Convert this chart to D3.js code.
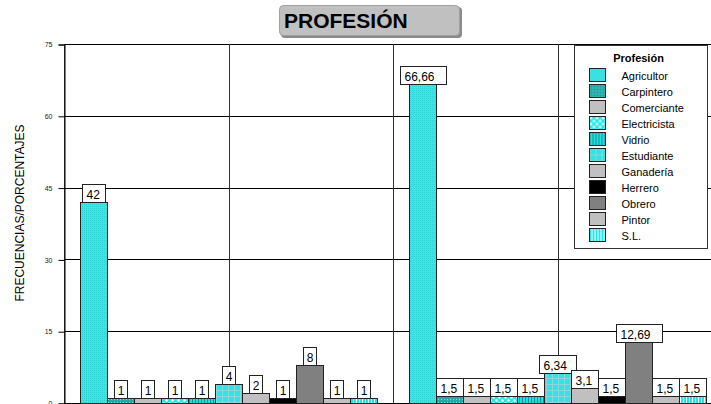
<!DOCTYPE html>
<meta charset="utf-8">
<script src="https://d3js.org/d3.v7.min.js"></script>
<style>
  body { margin: 0; background: #fff; }
  svg { font-family: "Liberation Sans", Arial, sans-serif; display: block; }
</style>
<div id="chart"></div>
<script>

    // data
    var groups = ["Frecuencias", "Porcentajes"];
    var professions = ["Agricultor", "Carpintero", "Comerciante", "Electricista", "Vidrio",
        "Estudiante", "Ganadería", "Herrero", "Obrero", "Pintor", "S.L."];
    var frecuencias = [42, 1, 1, 1, 1, 4, 2, 1, 8, 1, 1];
    var porcentajes = [66.66, 1.5, 1.5, 1.5, 1.5, 6.34, 3.1, 1.5, 12.69, 1.5, 1.5];
    var yTicks = [0, 15, 30, 45, 60, 75];

    var W = 711, H = 404;
    var svg = d3.select("#chart").append("svg")
        .attr("width", W).attr("height", H);

    // patterns for each profession
    var defs = svg.append("defs");
    function pat(id, w, h, bg, draw) {
        var p = defs.append("pattern").attr("id", id)
            .attr("patternUnits", "userSpaceOnUse").attr("width", w).attr("height", h);
        p.append("rect").attr("width", w).attr("height", h).attr("fill", bg);
        if (draw) draw(p);
    }
    pat("p-agri", 2, 2, "#3ce6e6", function(p) {
        p.append("rect").attr("width", 1).attr("height", 1).attr("fill", "#30d2d2");
    });
    pat("p-carp", 3, 3, "#2aa8a8", function(p) {
        p.append("rect").attr("width", 1).attr("height", 1).attr("fill", "#5ee8e8");
    });
    pat("p-elec", 6, 6, "#22e8e8", function(p) {
        p.append("circle").attr("cx", 1.5).attr("cy", 1.5).attr("r", 1.3).attr("fill", "#fff");
        p.append("circle").attr("cx", 4.5).attr("cy", 4.5).attr("r", 1.3).attr("fill", "#fff");
    });
    pat("p-vid", 3, 3, "#1fe0e0", function(p) {
        p.append("rect").attr("width", 1).attr("height", 3).attr("fill", "#168f8f");
    });
    pat("p-est", 6, 6, "#2fe4e4", function(p) {
        p.append("rect").attr("width", 6).attr("height", 1).attr("fill", "#8fd6d6");
        p.append("rect").attr("width", 1).attr("height", 6).attr("fill", "#8fd6d6");
    });
    pat("p-sl", 3, 3, "#ffffff", function(p) {
        p.append("rect").attr("width", 2).attr("height", 3).attr("fill", "#22e6e6");
    });

    var fills = ["url(#p-agri)", "url(#p-carp)", "#c0c0c0", "url(#p-elec)", "url(#p-vid)",
        "url(#p-est)", "#c0c0c0", "#000000", "#808080", "#c0c0c0", "url(#p-sl)"];

    // plot area
    var plotLeft = 64, plotTop = 44, plotBottom = 403, plotRight = 722;

    var y = d3.scaleLinear().domain([0, 75]).range([plotBottom, plotTop]);
    var x0 = d3.scaleBand().domain(groups).range([plotLeft, plotRight]);
    var x1 = d3.scaleBand().domain(professions).range([16, x0.bandwidth() - 16]);

    // gridlines
    svg.append("g").selectAll("line")
        .data(yTicks.filter(function(d) { return d > 0; }))
        .enter().append("line")
        .attr("x1", plotLeft).attr("x2", W)
        .attr("y1", function(d) { return Math.round(y(d)) + 0.5; })
        .attr("y2", function(d) { return Math.round(y(d)) + 0.5; })
        .attr("stroke", "#000").attr("stroke-width", 1);

    var vLines = [];
    groups.forEach(function(g) {
        vLines.push(x0(g));
        vLines.push(x0(g) + x0.bandwidth() / 2);
    });
    svg.append("g").selectAll("line")
        .data(vLines).enter().append("line")
        .attr("x1", function(d) { return Math.round(d) + 0.5; })
        .attr("x2", function(d) { return Math.round(d) + 0.5; })
        .attr("y1", plotTop).attr("y2", plotBottom)
        .attr("stroke", "#333").attr("stroke-width", 1);

    // y axis
    var yAxis = svg.append("g")
        .attr("transform", "translate(" + (plotLeft + 0.5) + ",0.5)")
        .call(d3.axisLeft(y).tickValues(yTicks).tickSize(6).tickPadding(6));
    yAxis.select(".domain").attr("stroke", "#000");
    yAxis.selectAll("text").style("font-size", "7px").attr("fill", "#222");

    svg.append("line")
        .attr("x1", plotLeft).attr("x2", W)
        .attr("y1", plotBottom + 0.5).attr("y2", plotBottom + 0.5)
        .attr("stroke", "#000");

    svg.append("text")
        .attr("transform", "translate(24," + 213 + ") rotate(-90)")
        .attr("text-anchor", "middle")
        .style("font-size", "12px")
        .attr("fill", "#000")
        .text("FRECUENCIAS/PORCENTAJES");

    // bars
    var series = [frecuencias, porcentajes];
    var barData = [];
    groups.forEach(function(g, gi) {
        professions.forEach(function(p, pi) {
            barData.push({ group: g, prof: p, i: pi, value: series[gi][pi] });
        });
    });

    svg.append("g").selectAll("rect")
        .data(barData).enter().append("rect")
        .attr("x", function(d) { return Math.round(x0(d.group) + x1(d.prof)) + 0.5; })
        .attr("y", function(d) { return Math.round(y(d.value)) + 0.5; })
        .attr("width", Math.round(x1.bandwidth()))
        .attr("height", function(d) { return plotBottom - Math.round(y(d.value)); })
        .attr("fill", function(d) { return fills[d.i]; })
        .attr("stroke", "#222").attr("stroke-width", 1);

    // value labels in white boxes
    var labels = svg.append("g").selectAll("g")
        .data(barData).enter().append("g");
    labels.each(function(d) {
        var gEl = d3.select(this);
        var txt = String(d.value).replace(".", ",");
        var t = gEl.append("text").style("font-size", "12px").attr("fill", "#000").text(txt);
        var tw = t.node().getComputedTextLength();
        var bw = Math.round(tw * 1.4 + 4);
        var cx = x0(d.group) + x1(d.prof) + x1.bandwidth() / 2;
        var bx = Math.round(cx - bw / 2) + 0.5;
        var by = Math.round(y(d.value)) - 18 + 0.5;
        gEl.insert("rect", "text")
            .attr("x", bx).attr("y", by)
            .attr("width", bw).attr("height", 18)
            .attr("fill", "#fff").attr("stroke", "#222");
        t.attr("x", bx + Math.min(4, (bw - tw) / 2)).attr("y", by + 14);
    });

    // legend
    var lg = svg.append("g").attr("transform", "translate(574.5,45.5)");
    lg.append("rect").attr("width", 133).attr("height", 203)
        .attr("fill", "#fff").attr("stroke", "#333");
    lg.append("text").attr("x", 64).attr("y", 16)
        .attr("text-anchor", "middle")
        .style("font-size", "11px").style("font-weight", "bold")
        .text("Profesión");
    var items = lg.selectAll("g.item").data(professions).enter().append("g")
        .attr("transform", function(d, i) { return "translate(15," + (23 + i * 16) + ")"; });
    items.append("rect").attr("width", 16).attr("height", 13)
        .attr("fill", function(d, i) { return fills[i]; })
        .attr("stroke", "#222");
    items.append("text").attr("x", 32).attr("y", 11)
        .style("font-size", "11px")
        .text(function(d) { return d; });

    // title box
    var tg = svg.append("g");
    tg.append("rect").attr("x", 281).attr("y", 7).attr("width", 181).attr("height", 31)
        .attr("rx", 4).attr("fill", "#8a8a8a");
    tg.append("rect").attr("x", 279.5).attr("y", 5.5).attr("width", 180).attr("height", 30)
        .attr("rx", 4).attr("fill", "#c0c0c0").attr("stroke", "#a0a0a0");
    tg.append("text").attr("x", 284).attr("y", 28)
        .style("font-size", "21px").style("font-weight", "bold")
        .text("PROFESIÓN");

</script>
